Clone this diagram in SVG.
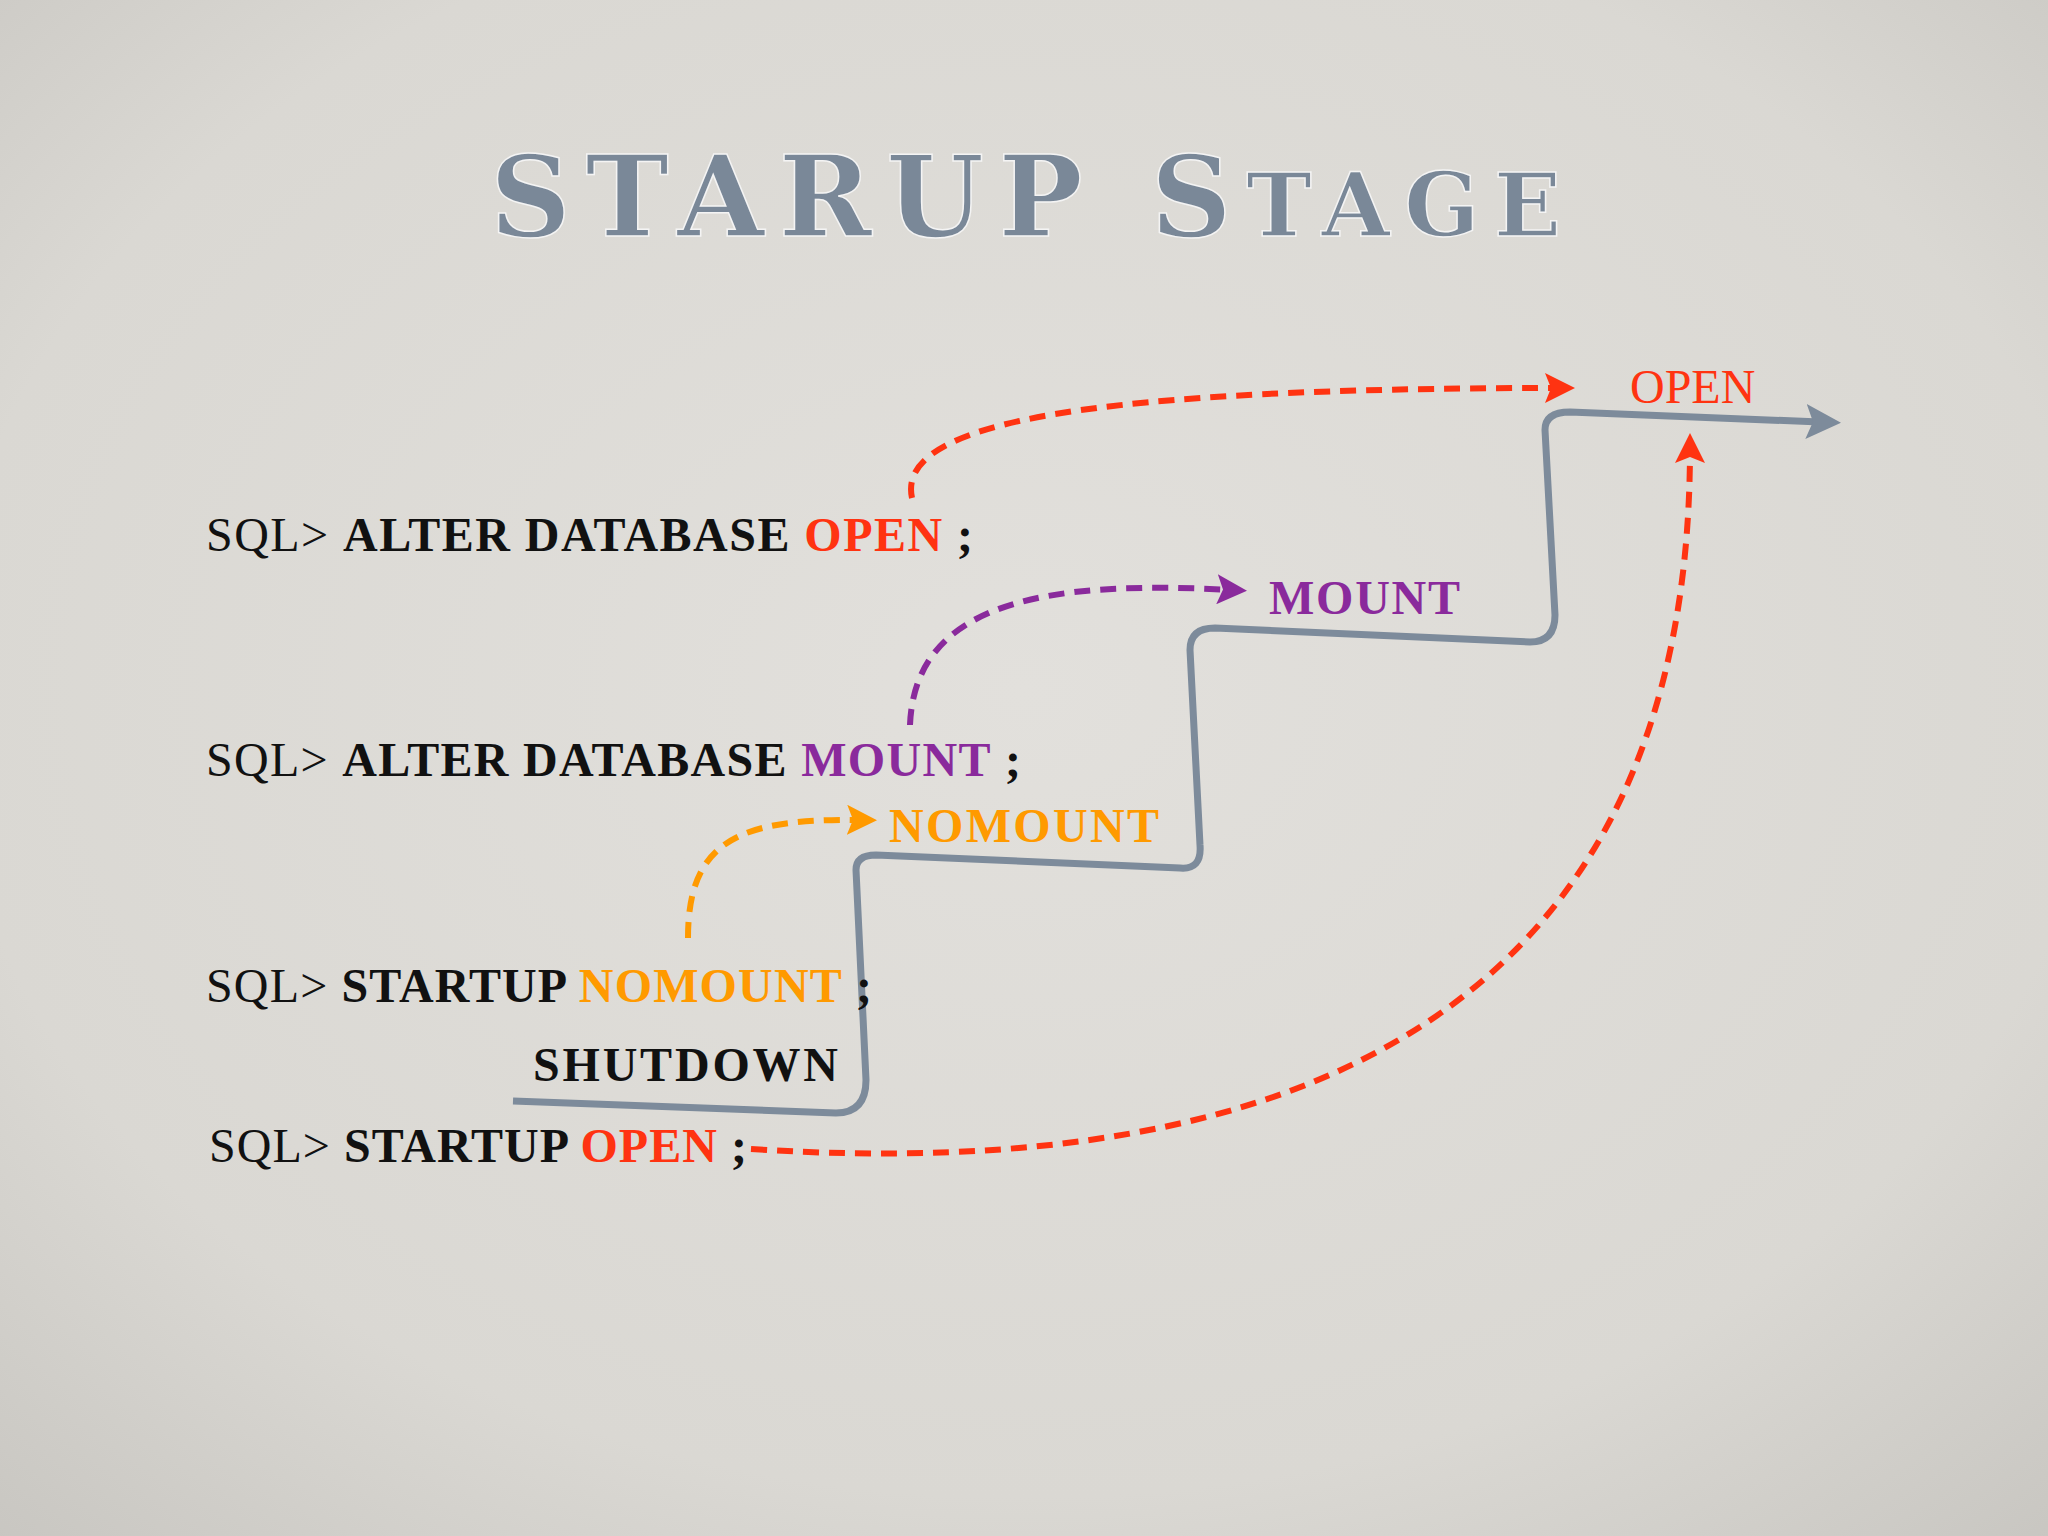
<svg xmlns="http://www.w3.org/2000/svg" width="2048" height="1536" viewBox="0 0 2048 1536">
<defs>
<radialGradient id="bg" cx="50%" cy="45%" r="75%"><stop offset="0" stop-color="#e2e0dc"/><stop offset="0.7" stop-color="#dad8d3"/><stop offset="1" stop-color="#c8c6c1"/></radialGradient>
<marker id="ar" viewBox="0 0 10 10" refX="5" refY="5" markerWidth="5" markerHeight="5" orient="auto" markerUnits="strokeWidth"><path d="M0,0 L10,5 L0,10 L2,5 z" fill="#ff3311"/></marker>
<marker id="ap" viewBox="0 0 10 10" refX="5" refY="5" markerWidth="5" markerHeight="5" orient="auto" markerUnits="strokeWidth"><path d="M0,0 L10,5 L0,10 L2,5 z" fill="#8a2a9c"/></marker>
<marker id="ao" viewBox="0 0 10 10" refX="5" refY="5" markerWidth="5" markerHeight="5" orient="auto" markerUnits="strokeWidth"><path d="M0,0 L10,5 L0,10 L2,5 z" fill="#ff9a00"/></marker>
<marker id="ag" viewBox="0 0 10 10" refX="4" refY="5" markerWidth="5" markerHeight="5" orient="auto" markerUnits="strokeWidth"><path d="M0,0 L10,5 L0,10 L2,5 z" fill="#7d8b9b"/></marker>
</defs>
<style>
.t{font-family:"Liberation Serif",serif;font-size:48px;fill:#111}
.b{font-weight:bold}
.r{fill:#ff3311}.p{fill:#8a2a9c}.o{fill:#ff9a00}
.d{fill:none;stroke-width:6;stroke-dasharray:16 10}
</style>
<rect width="2048" height="1536" fill="url(#bg)"/>
<g id="title" font-family="DejaVu Serif,serif" font-weight="bold" fill="#7a8898" stroke="#f4f4f4" stroke-width="1.5">
<text x="490" y="236" font-size="112" textLength="1071" lengthAdjust="spacing">STARUP S<tspan font-size="88">TAGE</tspan></text>
</g>
<g id="connectors">
<path d="M513,1101 L836,1113 Q866,1113 866,1080 L856,870 Q856,855 876,855 L1180,868 Q1202,870 1200,845 L1190,650 Q1190,628 1215,628 L1530,642 Q1555,642 1555,615 L1545,430 Q1545,412 1570,412 L1820,422" fill="none" stroke="#7d8b9b" stroke-width="7" marker-end="url(#ag)"/>
<path class="d" d="M912,498 C895,420 1100,388 1560,388" stroke="#ff3311" marker-end="url(#ar)"/>
<path class="d" d="M910,725 C915,600 1050,580 1232,590" stroke="#8a2a9c" marker-end="url(#ap)"/>
<path class="d" d="M688,938 C688,840 740,818 862,820" stroke="#ff9a00" marker-end="url(#ao)"/>
<path class="d" d="M751,1149 C1300,1185 1690,1010 1690,448" stroke="#ff3311" marker-end="url(#ar)"/>
</g>
<g id="labels">
<text class="t r" x="1630" y="403">OPEN</text>
<text class="t p b" x="1269" y="614" textLength="191">MOUNT</text>
<text class="t o b" x="889" y="842" textLength="270">NOMOUNT</text>
</g>
<g id="commands">
<text class="t" x="206" y="551" textLength="767">SQL&gt; <tspan class="b">ALTER DATABASE  </tspan><tspan class="r b">OPEN</tspan> <tspan class="b">;</tspan></text>
<text class="t" x="206" y="776" textLength="815">SQL&gt; <tspan class="b">ALTER DATABASE  </tspan><tspan class="p b">MOUNT</tspan> <tspan class="b">;</tspan></text>
<text class="t" x="206" y="1002" textLength="666">SQL&gt; <tspan class="b">STARTUP </tspan><tspan class="o b">NOMOUNT</tspan> <tspan class="b">;</tspan></text>
<text class="t b" x="533" y="1081" textLength="305">SHUTDOWN</text>
<text class="t" x="209" y="1162" textLength="538">SQL&gt; <tspan class="b">STARTUP </tspan><tspan class="r b">OPEN</tspan> <tspan class="b">;</tspan></text>
</g>
</svg>
